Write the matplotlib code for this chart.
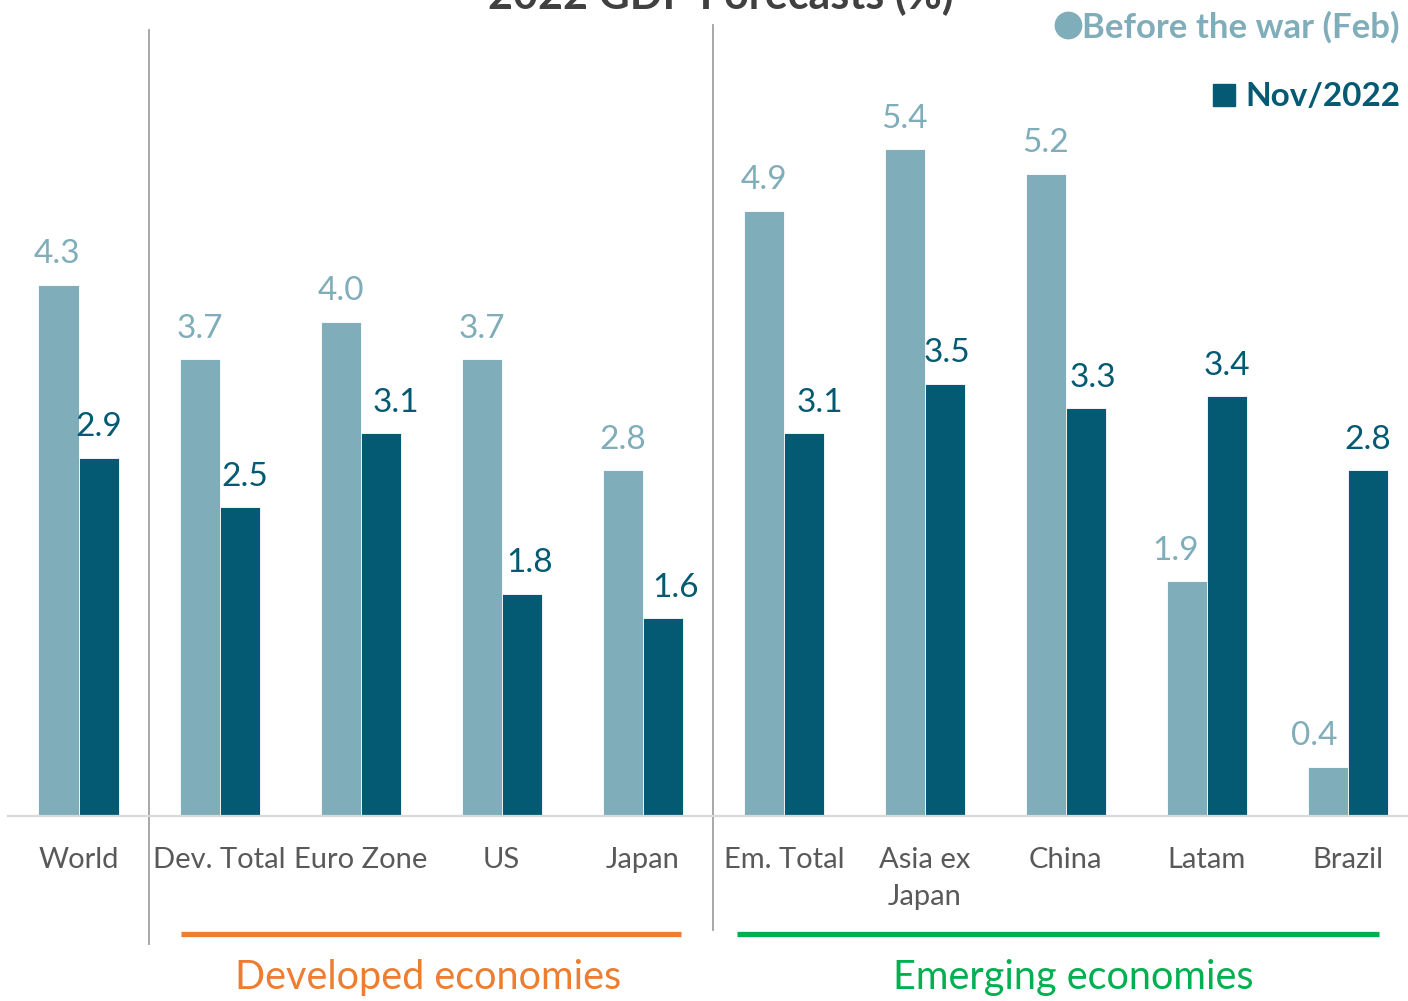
import matplotlib
matplotlib.use("Agg")
import matplotlib.pyplot as plt
import matplotlib.transforms as mtransforms
import numpy as np

plt.rcParams['font.family'] = ['Lato', 'DejaVu Sans']

# Data
categories = ["World", "Dev. Total", "Euro Zone", "US", "Japan",
              "Em. Total", "Asia ex\nJapan", "China", "Latam", "Brazil"]
before_war = [4.3, 3.7, 4.0, 3.7, 2.8, 4.9, 5.4, 5.2, 1.9, 0.4]
nov_2022 = [2.9, 2.5, 3.1, 1.8, 1.6, 3.1, 3.5, 3.3, 3.4, 2.8]
series_names = ["Before the war (Feb)", "Nov/2022"]
group_names = ["Developed economies", "Emerging economies"]

# horizontal nudges of the value labels, in points
before_dx = [-1, 0, 0, 0, 0, 0, 0, 0, -8, -10]
nov_dx = [0, 3.5, 11, 6, 9.5, 11.5, 1.5, 5, 0, 0]

LIGHT = "#80ADBA"
DARK = "#045A73"
GRAY_TXT = "#595959"
ORANGE = "#ED7D31"
GREEN = "#00B050"

W, H = 1408, 1001
fig = plt.figure(figsize=(W / 100, H / 100), dpi=100)

# axes: baseline at 816 px from top, 123.5 px per percentage point
base_px = 816
ax = fig.add_axes([8 / W, (H - base_px) / H, 1410.5 / W, base_px / H])
ax.set_xlim(-0.5, 9.5)
ax.set_ylim(0, base_px / 123.5)

x = np.arange(len(categories))
bw = 0.284
b1 = ax.bar(x - bw / 2, before_war, bw, color=LIGHT, edgecolor="white",
            linewidth=0.6, zorder=2)
b2 = ax.bar(x + bw / 2, nov_2022, bw, color=DARK, edgecolor="white",
            linewidth=0.6, zorder=2)

for bars, vals, dxs, col in [(b1, before_war, before_dx, LIGHT),
                             (b2, nov_2022, nov_dx, DARK)]:
    for rect, v, dx in zip(bars, vals, dxs):
        ax.annotate(f"{v:.1f}", (rect.get_x() + rect.get_width() / 2, v),
                    xytext=(dx, 15.5), textcoords="offset points",
                    ha="center", va="baseline", fontsize=24, color=col)

# baseline and spines
for s in ax.spines.values():
    s.set_visible(False)
ax.axhline(0, color="#D9D9D9", lw=1.6, zorder=3, clip_on=False)
ax.set_yticks([])
ax.set_xticks(x)
ax.set_xticklabels(categories, fontsize=21, color=GRAY_TXT, linespacing=1.55)
ax.tick_params(axis="x", length=0, pad=22)

# group separators (data x, figure y)
trans = mtransforms.blended_transform_factory(ax.transData, fig.transFigure)
for xs, y0, y1 in [(0.5, 944, 30), (4.5, 930, 25)]:
    ax.plot([xs, xs], [(H - y0) / H, (H - y1) / H], transform=trans,
            color="#A0A0A0", lw=1.3, clip_on=False, zorder=1)

# group underlines and names
yl = (H - 934) / H
ax.plot([0.73, 4.27], [yl, yl], transform=trans, color=ORANGE, lw=3.8,
        clip_on=False, solid_capstyle="butt")
ax.plot([4.667, 9.22], [yl, yl], transform=trans, color=GREEN, lw=3.8,
        clip_on=False, solid_capstyle="butt")
yt = (H - 978) / H
ax.text(2.475, yt, group_names[0], transform=trans, ha="center", va="center",
        fontsize=28.5, color=ORANGE)
ax.text(7.05, yt, group_names[1], transform=trans, ha="center", va="center",
        fontsize=28.5, color=GREEN)

# title (partly above the canvas)
fig.text(721 / W, (H - 9) / H, "2022 GDP Forecasts (%)", ha="center",
         va="baseline", fontsize=31, fontweight="bold", color="#404040")

# legend
fig.text(1400 / W, (H - 27) / H, series_names[0], ha="right", va="center",
         fontsize=25, fontweight="bold", color=LIGHT)
fig.text(1400 / W, (H - 96) / H, series_names[1], ha="right", va="center",
         fontsize=24, fontweight="bold", color=DARK)
fig.lines.append(plt.Line2D([1068 / W], [(H - 25) / H], transform=fig.transFigure,
                            marker="o", markersize=19, color=LIGHT, lw=0))
fig.lines.append(plt.Line2D([1224 / W], [(H - 95) / H], transform=fig.transFigure,
                            marker="s", markersize=16.5, color=DARK, lw=0))

fig.savefig("out.png", dpi=100)
